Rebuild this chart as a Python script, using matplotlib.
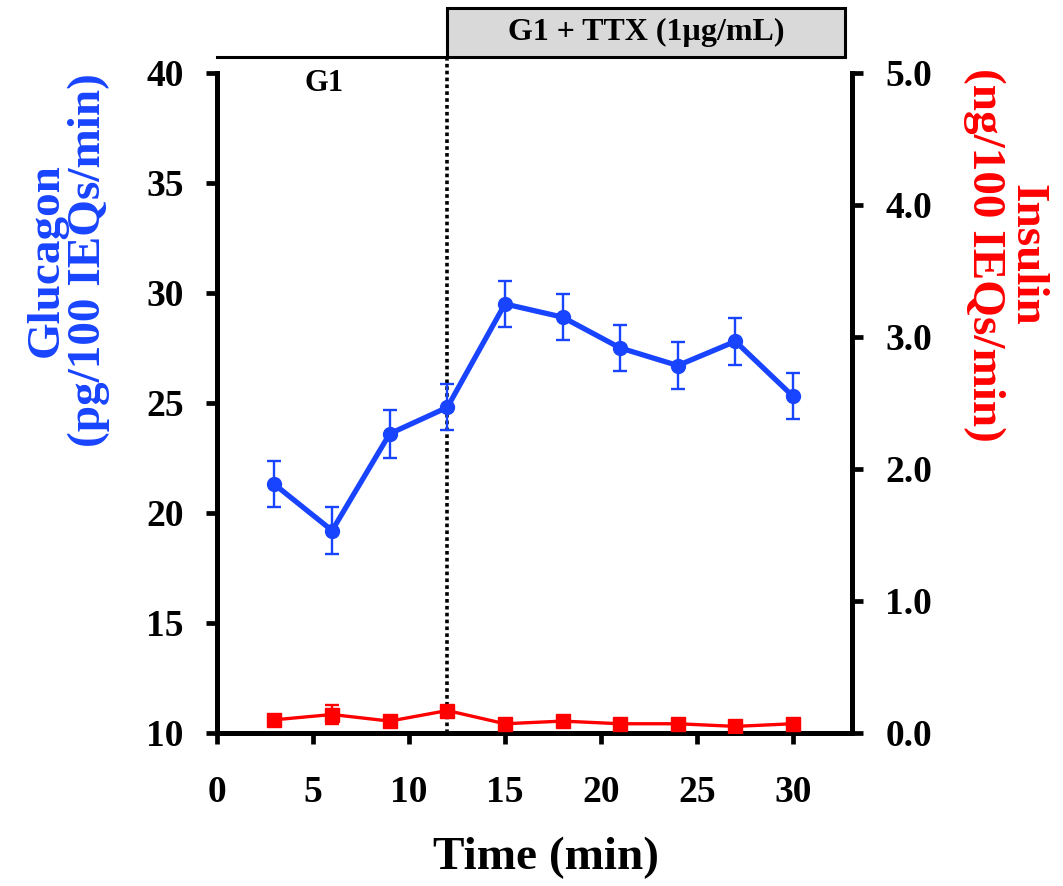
import matplotlib
matplotlib.use('Agg')
import matplotlib.pyplot as plt
from matplotlib.patches import Rectangle


time_min = [3, 6, 9, 12, 15, 18, 21, 24, 27, 30]
glucagon = [21.3, 19.2, 23.6, 24.8, 29.5, 28.9, 27.5, 26.7, 27.8, 25.3]
glucagon_err = [1.05, 1.05, 1.08, 1.05, 1.05, 1.06, 1.05, 1.05, 1.06, 1.05]
insulin = [0.10, 0.14, 0.09, 0.17, 0.07, 0.09, 0.07, 0.07, 0.05, 0.07]
insulin_err = [0.02, 0.07, 0.02, 0.02, 0.02, 0.02, 0.02, 0.02, 0.02, 0.02]

x_ticks = [0, 5, 10, 15, 20, 25, 30]
glucagon_ticks = [10, 15, 20, 25, 30, 35, 40]
insulin_ticks = [0.0, 1.0, 2.0, 3.0, 4.0, 5.0]

ttx_start = 12
ttx_end = 32.7

BLUE = '#1844ff'
RED = '#ff0000'

plt.rcParams['font.family'] = ['Liberation Serif', 'DejaVu Serif']
plt.rcParams['font.weight'] = 'bold'

fig = plt.figure(figsize=(10.63, 8.86), dpi=100)
ax = fig.add_axes([0.204, 0.1727, 0.5975, 0.745])
ax2 = ax.twinx()

ax.errorbar(time_min, glucagon, yerr=glucagon_err, color=BLUE, lw=3.8,
            marker='o', ms=10, elinewidth=1.7, capsize=5, capthick=1.7, zorder=3)
ax2.errorbar(time_min, insulin, yerr=insulin_err, color=RED, lw=2.4,
             marker='s', ms=10, elinewidth=1.7, capsize=5, capthick=1.7, zorder=3)

ax.set_xlim(0, 33.07)
ax.set_ylim(10, 40)
ax2.set_ylim(0, 5)
ax.set_xticks(x_ticks)
ax.set_yticks(glucagon_ticks)
ax2.set_yticks(insulin_ticks)
ax2.set_yticklabels([f'{v:.1f}' for v in insulin_ticks])

for a in (ax, ax2):
    a.spines['top'].set_visible(False)
    for side in ('left', 'right', 'bottom'):
        a.spines[side].set_linewidth(3.6)
    a.tick_params(width=3.4, length=8, labelsize=27, pad=16)
ax.tick_params(axis='x', pad=22)
ax.spines['right'].set_visible(False)
ax2.spines['left'].set_visible(False)
ax2.spines['bottom'].set_visible(False)

# treatment bar above the plot and the switch-over marker
bar_y = 40.73
box_top = 42.95
ax.plot([ttx_start, ttx_start], [10, bar_y], color='black', lw=2.6,
        ls=(0, (1, 0.9)), clip_on=False, zorder=2)
ax.plot([0, ttx_start], [bar_y, bar_y], color='black', lw=2.2, clip_on=False)
ax.add_patch(Rectangle((ttx_start, bar_y), ttx_end - ttx_start, box_top - bar_y,
                       facecolor='#d9d9d9', edgecolor='black', lw=2.2,
                       clip_on=False))
ax.text((ttx_start + ttx_end) / 2, (bar_y + box_top) / 2, 'G1 + TTX (1µg/mL)',
        ha='center', va='center', fontsize=23, fontweight='bold')
ax.text(5.6, 39.5, 'G1', ha='center', va='center', fontsize=22, fontweight='bold')

fig.text(0.514, 0.032, 'Time (min)', ha='center', va='center',
         fontsize=34, fontweight='bold')
fig.text(0.064, 0.707, 'Glucagon\n(pg/100 IEQs/min)', color=BLUE, rotation=90,
         ha='center', va='center', fontsize=34, fontweight='bold',
         linespacing=1.0)
fig.text(0.946, 0.712, 'Insulin\n(ng/100 IEQs/min)', color=RED, rotation=270,
         ha='center', va='center', fontsize=34, fontweight='bold',
         linespacing=1.0)

fig.savefig('out.png', dpi=100)
